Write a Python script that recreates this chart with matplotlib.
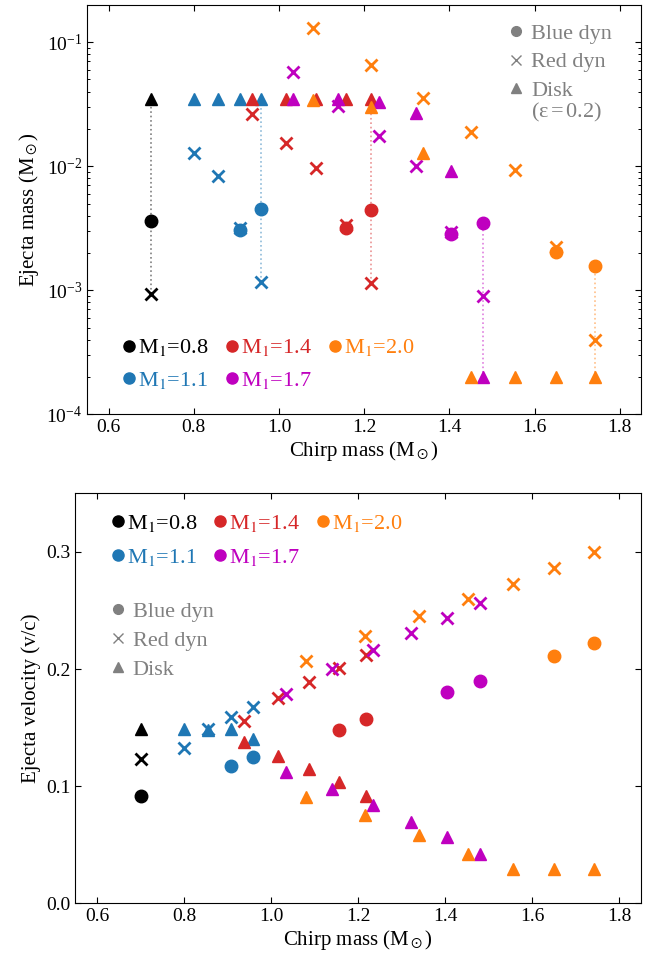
import matplotlib
matplotlib.use("Agg")
import matplotlib.pyplot as plt
from matplotlib.lines import Line2D
import numpy as np

plt.rcParams['font.family'] = ['Liberation Serif', 'DejaVu Serif']
plt.rcParams['mathtext.fontset'] = 'stix'
plt.rcParams['xtick.direction'] = 'in'
plt.rcParams['ytick.direction'] = 'in'
plt.rcParams['xtick.top'] = True
plt.rcParams['ytick.right'] = True

nan = np.nan

# series per primary mass M1
m1_labels = ['0.8', '1.1', '1.4', '1.7', '2.0']
colors = ['black', 'tab:blue', 'tab:red', 'm', 'tab:orange']

# chirp mass
mc = [
    [0.70],
    [0.80, 0.856, 0.908, 0.958],
    [0.937, 1.016, 1.088, 1.157, 1.217],
    [1.034, 1.139, 1.234, 1.321, 1.403, 1.479],
    [1.079, 1.216, 1.339, 1.452, 1.555, 1.651, 1.742],
]

# ejecta masses (Msun)
m_blue = [
    [3.6e-3],
    [nan, nan, 3.05e-3, 4.5e-3],
    [nan, nan, nan, 3.2e-3, 4.4e-3],
    [nan, nan, nan, nan, 2.85e-3, 3.47e-3],
    [nan, nan, nan, nan, nan, 2.04e-3, 1.57e-3],
]
m_red = [
    [9.3e-4],
    [0.0127, 0.0083, 3.15e-3, 1.17e-3],
    [0.0264, 0.0155, 0.0096, 3.35e-3, 1.15e-3],
    [0.057, 0.0306, 0.0176, 0.0100, 2.95e-3, 8.96e-4],
    [0.13, 0.066, 0.0353, 0.0188, 0.0094, 2.24e-3, 4.0e-4],
]
m_disk = [
    [0.035],
    [0.035, 0.035, 0.035, 0.035],
    [0.035, 0.035, 0.035, 0.035, 0.035],
    [0.035, 0.035, 0.033, 0.0267, 0.0091, 2.0e-4],
    [0.034, 0.030, 0.0127, 2.0e-4, 2.0e-4, 2.0e-4, 2.0e-4],
]

# ejecta velocities (v/c)
v_blue = [
    [0.092],
    [nan, nan, 0.117, 0.125],
    [nan, nan, nan, 0.148, 0.157],
    [nan, nan, nan, nan, 0.180, 0.190],
    [nan, nan, nan, nan, nan, 0.211, 0.222],
]
v_red = [
    [0.123],
    [0.1326, 0.149, 0.159, 0.168],
    [0.1556, 0.175, 0.189, 0.201, 0.212],
    [0.179, 0.200, 0.2166, 0.2308, 0.2436, 0.2563],
    [0.2066, 0.228, 0.245, 0.260, 0.2725, 0.286, 0.300],
]
v_disk = [
    [0.149],
    [0.149, 0.148, 0.1485, 0.1406],
    [0.1377, 0.1255, 0.1145, 0.1034, 0.0915],
    [0.112, 0.098, 0.0838, 0.0696, 0.0563, 0.042],
    [0.091, 0.0753, 0.0583, 0.0419, 0.029, 0.029, 0.029],
]

fs = 14      # ticks
fl = 15      # axis labels
fleg = 16    # legends
gray = '#808080'

fig = plt.figure(figsize=(6.59, 9.59), dpi=100)
ax1 = fig.add_axes([0.1325, 0.568, 0.8402, 0.427])
ax2 = fig.add_axes([0.1143, 0.058, 0.8584, 0.4276])

# top panel: masses
for i in range(5):
    c = colors[i]
    x = mc[i]
    # dotted line for the last model of each M1
    vals = [m_blue[i][-1], m_red[i][-1], m_disk[i][-1]]
    ax1.plot([x[-1], x[-1]], [np.nanmin(vals), np.nanmax(vals)], ls=':', color=c,
             lw=1.2, alpha=0.5, zorder=1)
    ax1.plot(x, m_red[i], ls='none', marker='x', ms=8, mew=2, color=c, zorder=2)
    ax1.plot(x, m_blue[i], ls='none', marker='o', ms=9, color=c, zorder=3)
    ax1.plot(x, m_disk[i], ls='none', marker='^', ms=9, color=c, zorder=3)

ax1.set_yscale('log')
ax1.set_xlim(0.55, 1.85)
ax1.set_ylim(1e-4, 0.2)
ax1.set_xticks([0.6, 0.8, 1.0, 1.2, 1.4, 1.6, 1.8])
ax1.set_xlabel(r'Chirp mass (M$_\odot$)', fontsize=fl, labelpad=2)
ax1.set_ylabel(r'Ejecta mass (M$_\odot$)', fontsize=fl)

# bottom panel: velocities
for i in range(5):
    c = colors[i]
    x = mc[i]
    ax2.plot(x, v_red[i], ls='none', marker='x', ms=8, mew=2, color=c, zorder=2)
    ax2.plot(x, v_blue[i], ls='none', marker='o', ms=9, color=c, zorder=3)
    ax2.plot(x, v_disk[i], ls='none', marker='^', ms=9, color=c, zorder=3)

ax2.set_xlim(0.55, 1.85)
ax2.set_ylim(0, 0.35)
ax2.set_xticks([0.6, 0.8, 1.0, 1.2, 1.4, 1.6, 1.8])
ax2.set_yticks([0.0, 0.1, 0.2, 0.3])
ax2.set_xlabel(r'Chirp mass (M$_\odot$)', fontsize=fl, labelpad=2)
ax2.set_ylabel('Ejecta velocity (v/c)', fontsize=fl)

for ax in (ax1, ax2):
    ax.tick_params(which='major', labelsize=fs, length=4, width=0.8)
    ax.tick_params(which='minor', length=2.5, width=0.7)

# legends
m1_handles = [Line2D([], [], ls='none', marker='o', ms=8, color=c) for c in colors]
m1_names = ['M$_1$=' + s for s in m1_labels]

type_handles = [Line2D([], [], ls='none', marker='o', ms=7, color=gray),
                Line2D([], [], ls='none', marker='x', ms=7, mew=1, color=gray),
                Line2D([], [], ls='none', marker='^', ms=7, color=gray)]
type_names = ['Blue dyn', 'Red dyn', 'Disk']

leg1 = ax1.legend(m1_handles, m1_names, ncol=3, loc='lower left',
                  bbox_to_anchor=(0.066, 0.057), frameon=False, fontsize=fleg,
                  labelcolor='markerfacecolor', handlelength=0.5,
                  handletextpad=0.15, columnspacing=0.8, labelspacing=0.52,
                  borderpad=0, borderaxespad=0)
ax1.add_artist(leg1)
ax1.legend(type_handles, type_names, loc='upper left',
           bbox_to_anchor=(0.763, 0.955), frameon=False, fontsize=fleg,
           labelcolor=gray, handlelength=0.6, handletextpad=0.35,
           labelspacing=0.36, borderpad=0, borderaxespad=0)
ax1.text(0.801, 0.737, '(ε$\\,$=$\\,$0.2)', transform=ax1.transAxes,
         fontsize=fleg, color=gray, va='center', ha='left')

leg2 = ax2.legend(m1_handles, m1_names, ncol=3, loc='upper left',
                  bbox_to_anchor=(0.065, 0.953), frameon=False, fontsize=fleg,
                  labelcolor='markerfacecolor', handlelength=0.5,
                  handletextpad=0.15, columnspacing=0.8, labelspacing=0.6,
                  borderpad=0, borderaxespad=0)
ax2.add_artist(leg2)
ax2.legend(type_handles, type_names, loc='upper left',
           bbox_to_anchor=(0.064, 0.737), frameon=False, fontsize=fleg,
           labelcolor=gray, handlelength=0.6, handletextpad=0.35,
           labelspacing=0.38, borderpad=0, borderaxespad=0)

fig.savefig('out.png', dpi=100)
